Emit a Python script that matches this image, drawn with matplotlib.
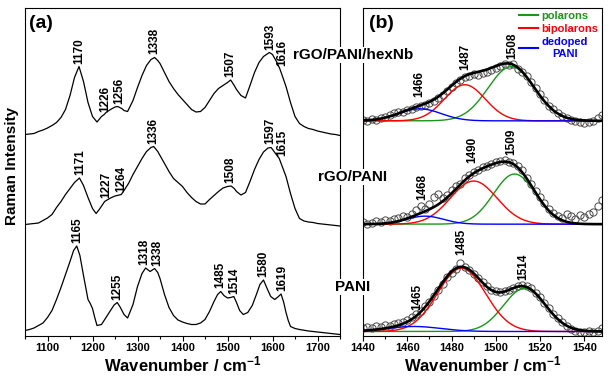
import numpy as np
import matplotlib
matplotlib.use('Agg')
import matplotlib.pyplot as plt
from matplotlib.lines import Line2D
from matplotlib.ticker import MultipleLocator

plt.rcParams['font.family'] = ['Liberation Sans', 'DejaVu Sans']
plt.rcParams['font.weight'] = 'bold'
plt.rcParams['axes.labelweight'] = 'bold'
plt.rcParams['mathtext.default'] = 'regular'

# ---- panel (a): Raman spectra (intensity above each baseline, arb. units)
wn_hexnb = [1050, 1060, 1070, 1080, 1090, 1100, 1110, 1120, 1130, 1140, 1150, 1160, 1170, 1180, 1190,
            1200, 1210, 1220, 1226, 1230, 1240, 1250, 1256, 1265, 1270, 1278, 1290, 1300, 1310, 1320,
            1330, 1338, 1345, 1350, 1360, 1370, 1380, 1390, 1400, 1410, 1420, 1430, 1440, 1450, 1460,
            1470, 1480, 1490, 1500, 1507, 1515, 1520, 1530, 1540, 1550, 1560, 1570, 1580, 1593, 1600,
            1610, 1616, 1620, 1630, 1640, 1650, 1660, 1670, 1680, 1690, 1700, 1710, 1720, 1730, 1740, 1750]
int_hexnb = [1, 1.5, 2, 4, 5.5, 7.5, 10, 13, 18, 26, 40, 58, 69, 54, 33,
             19, 13.5, 19, 21, 23, 26, 28.5, 29, 27, 25, 24, 35, 48, 60, 70,
             76, 78, 75, 72, 63, 54, 47, 41, 36, 31, 26, 23.5, 24, 28, 35,
             42, 47, 50, 53, 55.5, 50, 46, 40, 37.5, 50, 63, 73, 79, 83, 81,
             73, 67, 62, 49, 33, 19, 12, 9, 7, 6, 4.5, 3.5, 2.5, 1.5, 1, 0]

wn_rgo = [1050, 1060, 1070, 1080, 1090, 1100, 1110, 1120, 1130, 1140, 1150, 1160, 1171, 1180, 1190,
          1200, 1208, 1215, 1227, 1240, 1250, 1264, 1270, 1280, 1290, 1300, 1310, 1320, 1330, 1336,
          1345, 1350, 1360, 1370, 1380, 1390, 1400, 1410, 1420, 1430, 1440, 1450, 1460, 1470, 1480,
          1490, 1500, 1508, 1515, 1520, 1530, 1540, 1550, 1560, 1570, 1580, 1590, 1597, 1605, 1615,
          1620, 1630, 1640, 1650, 1660, 1670, 1680, 1690, 1700, 1720, 1740, 1750]
int_rgo = [1, 1.5, 2, 2.5, 5, 7.5, 11, 18, 24, 31, 37, 43, 47.5, 40, 28,
           17, 12, 16, 24, 27.5, 29.5, 31, 35, 42, 51, 59, 67, 74, 78, 79,
           74, 70, 62, 54, 47, 43, 39, 33, 28, 24, 21.5, 21.5, 26, 30, 34,
           37.5, 39, 39.5, 37, 34, 30.5, 33, 44, 56, 66, 73.5, 77.5, 78, 73, 67,
           61, 49, 32, 17, 7, 4.5, 3.5, 3, 2, 1, 0, -0.5]

wn_pani = [1050, 1060, 1070, 1080, 1090, 1100, 1110, 1120, 1130, 1140, 1150, 1158, 1165, 1172, 1180,
           1190, 1195, 1200, 1205, 1210, 1220, 1230, 1240, 1248, 1255, 1262, 1270, 1278, 1290, 1300,
           1310, 1318, 1328, 1338, 1345, 1350, 1360, 1370, 1380, 1390, 1400, 1410, 1420, 1430, 1440,
           1450, 1460, 1470, 1478, 1485, 1492, 1500, 1507, 1514, 1520, 1527, 1535, 1545, 1555, 1565,
           1572, 1580, 1588, 1596, 1605, 1612, 1619, 1625, 1630, 1635, 1640, 1650, 1660, 1680, 1700,
           1720, 1750]
int_pani = [5, 6, 7.5, 10, 12.5, 18, 25, 36, 48, 61, 74, 85, 89.5, 80, 60,
            36, 32, 27, 18, 10, 11, 18, 25, 30.5, 33, 28, 21, 17.5, 31, 49,
            62, 67.5, 64, 67, 63, 57, 41, 28, 20, 15.5, 13.5, 12, 11, 11, 12.5,
            16, 24, 34, 41, 44, 40, 37.5, 38, 39, 33, 25, 21, 23, 30, 42,
            51, 55.5, 47, 39, 36, 38.5, 41.5, 33, 23, 15, 9, 7, 6, 4.5, 3.5,
            2.5, 1]

offsets_a = [200, 110, 0]

peaks_hexnb = [1170, 1226, 1256, 1338, 1507, 1593, 1616]
labx_hexnb = [1170, 1229, 1259, 1338, 1506, 1596, 1621]
peaks_rgo = [1171, 1227, 1264, 1336, 1508, 1597, 1615]
labx_rgo = [1172, 1230, 1263, 1336, 1506, 1596, 1621]
peaks_pani = [1165, 1255, 1318, 1338, 1485, 1514, 1580, 1619]
labx_pani = [1166, 1256, 1315, 1343, 1484, 1516, 1580, 1621]

# ---- panel (b): fitted region, Gaussian components (height, centre, sigma)
comp_names = ['polarons', 'bipolarons', 'dedoped\nPANI']
comp_colors = ['#1a961a', '#ff0000', '#0000ff']
fit_hexnb = [(54, 1507, 10.5), (36, 1486, 9.2), (12, 1465.7, 9.6)]
fit_rgo = [(50, 1508.5, 9.5), (43, 1490, 10.5), (8, 1468, 8.3)]
fit_pani = [(43, 1513, 9.5), (63, 1484.5, 10.8), (5, 1463, 12)]

wn_exp = list(range(1440, 1551, 2))
exp_hexnb = [1, 0, 2, 1, 3, 4, 6, 8, 9, 9, 11, 12, 14, 15, 16, 18, 20, 23, 26, 30,
             34, 38, 41, 44, 45, 47, 46, 48, 49, 51, 53, 55, 57, 56, 57, 52, 49, 45, 39, 33,
             27, 21, 15, 12, 8, 5, 3, 1, 0, -1, -2, -1, 0, 3, 6, 9]
exp_rgo = [2, 0, 1, 3, 2, 4, 3, 5, 6, 8, 7, 10, 14, 18, 15, 20, 27, 30, 26, 29,
           34, 38, 40, 46, 49, 52, 54, 57, 58, 60, 62, 63, 64, 62, 61, 58, 54, 46, 40, 33,
           27, 21, 15, 11, 8, 6, 10, 8, 5, 9, 7, 10, 12, 18, 24, 29]
exp_pani = [3, 4, 3, 5, 4, 6, 5, 7, 8, 9, 11, 14, 17, 20, 25, 29, 35, 41, 47, 54,
            58, 62, 68, 64, 61, 57, 53, 49, 45, 41, 40, 39, 40, 41, 43, 45, 46, 45, 43, 38,
            34, 28, 23, 17, 13, 9, 5, 2, 0, -1, -1, 0, -1, 0, 3, 8]
offsets_b = [214, 111, 4]

labels_b = [[1466, 1487, 1508], [1468, 1490, 1509], [1465, 1485, 1514]]
labx_b = [[1465.5, 1486, 1507.5], [1467, 1489.5, 1507], [1464.5, 1484.5, 1512.5]]
laby_b = [[24, 51, 62], [24, 61, 69], [21, 76, 51]]

samples = ['rGO/PANI/hexNb', 'rGO/PANI', 'PANI']

W, H = 608, 380
fig = plt.figure(figsize=(W / 100, H / 100), dpi=100)
ax_a = fig.add_axes([25 / W, 1 - 335.5 / H, 315 / W, 328 / H])
ax_b = fig.add_axes([363 / W, 1 - 335.5 / H, 239 / W, 328 / H])

lab_fs = 8.5
spectra = [(wn_hexnb, int_hexnb, peaks_hexnb, labx_hexnb),
           (wn_rgo, int_rgo, peaks_rgo, labx_rgo),
           (wn_pani, int_pani, peaks_pani, labx_pani)]
for (wn, inten, pk, lx), off in zip(spectra, offsets_a):
    y = np.array(inten) + off
    ax_a.plot(wn, y, color='black', lw=0.9)
    for p, x in zip(pk, lx):
        yl = np.interp(p, wn, y) + 3
        ax_a.text(x, yl, str(p), rotation=90, ha='center', va='bottom', fontsize=lab_fs)

ax_a.set_xlim(1050, 1750)
ax_a.set_ylim(0, 328)
ax_a.xaxis.set_major_locator(MultipleLocator(100))
ax_a.xaxis.set_minor_locator(MultipleLocator(50))
ax_a.set_xticks([1100, 1200, 1300, 1400, 1500, 1600, 1700])

xg = np.linspace(1440, 1552, 449)
fits = [fit_hexnb, fit_rgo, fit_pani]
exps = [exp_hexnb, exp_rgo, exp_pani]
for fit, ex, off in zip(fits, exps, offsets_b):
    ax_b.plot(wn_exp, np.array(ex) + off, 'o', ms=5.2, mfc='none', mec='#4a4a4a', mew=0.7, zorder=2)
    total = np.zeros_like(xg)
    for (h, c, s), col in zip(fit, comp_colors):
        g = h * np.exp(-(xg - c) ** 2 / (2 * s ** 2))
        total += g
        ax_b.plot(xg, g + off, color=col, lw=1.0, zorder=3)
    ax_b.plot(xg, total + off, color='black', lw=1.9, zorder=4)

for labs, lxs, lys, off in zip(labels_b, labx_b, laby_b, offsets_b):
    for t, x, yv in zip(labs, lxs, lys):
        ax_b.text(x, yv + off, str(t), rotation=90, ha='center', va='bottom', fontsize=lab_fs, zorder=5)

ax_b.set_xlim(1440, 1548)
ax_b.set_ylim(0, 327)
ax_b.xaxis.set_major_locator(MultipleLocator(20))
ax_b.xaxis.set_minor_locator(MultipleLocator(10))

handles = [Line2D([], [], color=c, lw=1.5) for c in comp_colors]
leg = ax_b.legend(handles, comp_names, loc='upper right', frameon=False, labelcolor='linecolor',
                  prop={'size': 8, 'weight': 'bold'}, handlelength=1.7, handletextpad=0.3,
                  labelspacing=0.3, borderaxespad=0.15, borderpad=0.15)
for t in leg.get_texts():
    t.set_multialignment('center')

for ax in (ax_a, ax_b):
    ax.set_yticks([])
    ax.tick_params(axis='x', which='major', direction='out', length=3.5, width=0.8,
                   labelsize=8, pad=2)
    ax.tick_params(axis='x', which='minor', direction='out', length=2, width=0.8)
    for sp in ax.spines.values():
        sp.set_linewidth(0.8)
    ax.set_xlabel('Wavenumber / cm$^{-1}$', fontsize=12, labelpad=1)

ax_a.text(0.012, 0.978, '(a)', transform=ax_a.transAxes, ha='left', va='top', fontsize=14)
ax_b.text(0.025, 0.978, '(b)', transform=ax_b.transAxes, ha='left', va='top', fontsize=14)

fig.text(12 / W, 1 - 166 / H, 'Raman Intensity', rotation=90, ha='center', va='center', fontsize=11)

sample_y = [55, 177, 287]
for name, yp in zip(samples, sample_y):
    fig.text(353 / W, 1 - yp / H, name, ha='center', va='center', fontsize=11, zorder=10,
             bbox=dict(facecolor='white', edgecolor='none', pad=0.5))

fig.savefig('out.png', dpi=100)
